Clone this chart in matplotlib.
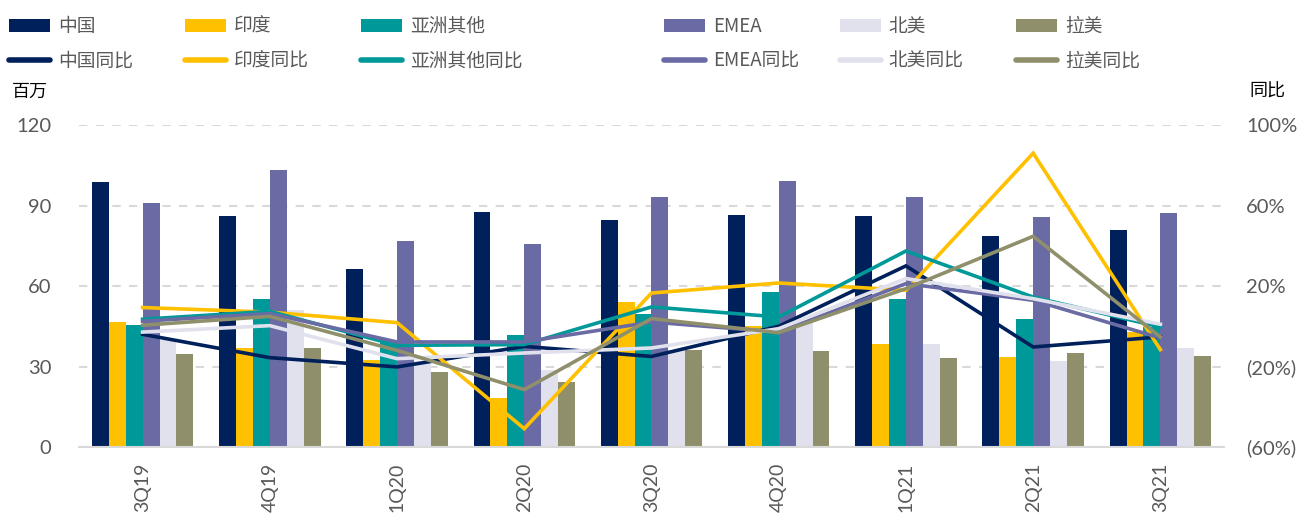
import matplotlib
matplotlib.use("Agg")
import matplotlib.pyplot as plt
import numpy as np
from matplotlib.patches import Patch
from matplotlib.lines import Line2D
from matplotlib.font_manager import FontProperties

plt.rcParams['font.family'] = ['Lato', 'Noto Sans CJK SC', 'DejaVu Sans']

quarters = ["3Q19", "4Q19", "1Q20", "2Q20", "3Q20", "4Q20", "1Q21", "2Q21", "3Q21"]
regions = ["中国", "印度", "亚洲其他", "EMEA", "北美", "拉美"]
yoy_labels = ["中国同比", "印度同比", "亚洲其他同比", "EMEA同比", "北美同比", "拉美同比"]

china = [98.8, 86.0, 66.5, 87.7, 84.7, 86.4, 86.2, 78.7, 80.8]
india = [46.5, 36.8, 32.3, 18.1, 54.2, 45.0, 38.3, 33.7, 43.0]
asia_other = [45.6, 55.3, 39.5, 41.8, 49.7, 57.7, 55.2, 47.7, 44.7]
emea = [91.1, 103.2, 76.9, 75.5, 93.0, 99.3, 93.0, 85.6, 87.2]
north_america = [40.0, 51.0, 32.0, 28.6, 36.0, 47.0, 38.5, 32.2, 37.0]
latam = [34.7, 37.0, 27.8, 24.2, 36.0, 35.8, 33.2, 35.0, 34.0]

china_yoy = [-4.0, -15.6, -20.2, -10.0, -15.0, 0.0, 30.0, -10.3, -5.3]
india_yoy = [9.3, 7.0, 1.8, -50.9, 16.5, 21.5, 17.9, 86.0, -11.6]
asia_other_yoy = [3.5, 7.4, -9.5, -9.1, 9.6, 4.6, 37.4, 14.5, -0.4]
emea_yoy = [2.5, 6.3, -7.8, -7.8, 2.1, -2.9, 21.2, 12.9, -5.8]
north_america_yoy = [-2.9, 0.3, -16.1, -13.3, -10.8, -1.2, 23.7, 13.7, 1.0]
latam_yoy = [0.5, 4.9, -12.0, -31.5, 3.8, -3.2, 18.7, 44.7, -5.3]

left_ticks = [0, 30, 60, 90, 120]
right_ticks = [-60, -20, 20, 60, 100]

bars = [china, india, asia_other, emea, north_america, latam]
lines = [china_yoy, india_yoy, asia_other_yoy, emea_yoy, north_america_yoy, latam_yoy]
colors = ["#00205B", "#FFC000", "#009999", "#6A6BA5", "#E1E1EE", "#8F8F6B"]

W, H = 1302, 515
fig = plt.figure(figsize=(W / 100, H / 100), dpi=100)
ax = fig.add_axes([79 / W, 1 - 447 / H, (1224 - 79) / W, (447 - 125) / H])

x = np.arange(len(quarters))
bw = 0.133
for i, (vals, c) in enumerate(zip(bars, colors)):
    ax.bar(x + (i - 2.5) * bw, vals, width=bw, color=c, zorder=2, linewidth=0)

ax.set_xlim(-0.5, len(quarters) - 0.5)
ax.set_ylim(0, 120)
ax.set_yticks(left_ticks)
ax.yaxis.grid(True, color="#D9D9D9", linestyle=(0, (4, 4)), linewidth=1.5, zorder=0)
ax.set_axisbelow(True)
for s in ["top", "right", "left"]:
    ax.spines[s].set_visible(False)
ax.spines["bottom"].set_color("#D9D9D9")
ax.spines["bottom"].set_linewidth(1.5)
ax.set_xticks(x)
ax.set_xticklabels(quarters, rotation=90, va="top", fontsize=14)
ax.tick_params(axis="both", length=0, labelcolor="#595959")
ax.tick_params(axis="y", pad=20, labelsize=14.5)
ax.tick_params(axis="x", pad=11)

ax2 = ax.twinx()
for vals, c in zip(lines, colors):
    ax2.plot(x, vals, color=c, linewidth=2.6, solid_joinstyle="miter", zorder=3)
ax2.set_ylim(-60, 100)
ax2.set_yticks(right_ticks)
ax2.set_yticklabels([f"({-t}%)" if t < 0 else f"{t}%" for t in right_ticks])
for s in ["top", "right", "left", "bottom"]:
    ax2.spines[s].set_visible(False)
ax2.tick_params(axis="y", length=0, labelsize=14.5, labelcolor="#595959", pad=16)

fig.text(12 / W, 1 - 92 / H, "百万", fontsize=13, color="#000000", va="center", ha="left",
         family=["Noto Sans CJK SC"])
fig.text(1285 / W, 1 - 92 / H, "同比", fontsize=13, color="#000000", va="center", ha="right",
         family=["Noto Sans CJK SC"])

legend_font = FontProperties(family=["Noto Sans CJK SC", "DejaVu Sans"], size=13.5)
col_x = [9, 185, 361, 664, 840, 1016]
for i in range(6):
    handles = [Patch(facecolor=colors[i], edgecolor="none"),
               Line2D([0], [0], color=colors[i], linewidth=4, solid_capstyle="round")]
    fig.legend(handles, [regions[i], yoy_labels[i]], loc="upper left",
               bbox_to_anchor=(col_x[i] / W, 1 - 16 / H), frameon=False,
               prop=legend_font, handlelength=2.2, handleheight=0.75, handletextpad=0.4,
               labelspacing=0.74, borderaxespad=0, borderpad=0,
               labelcolor="#595959")

fig.savefig("out.png", dpi=100)
